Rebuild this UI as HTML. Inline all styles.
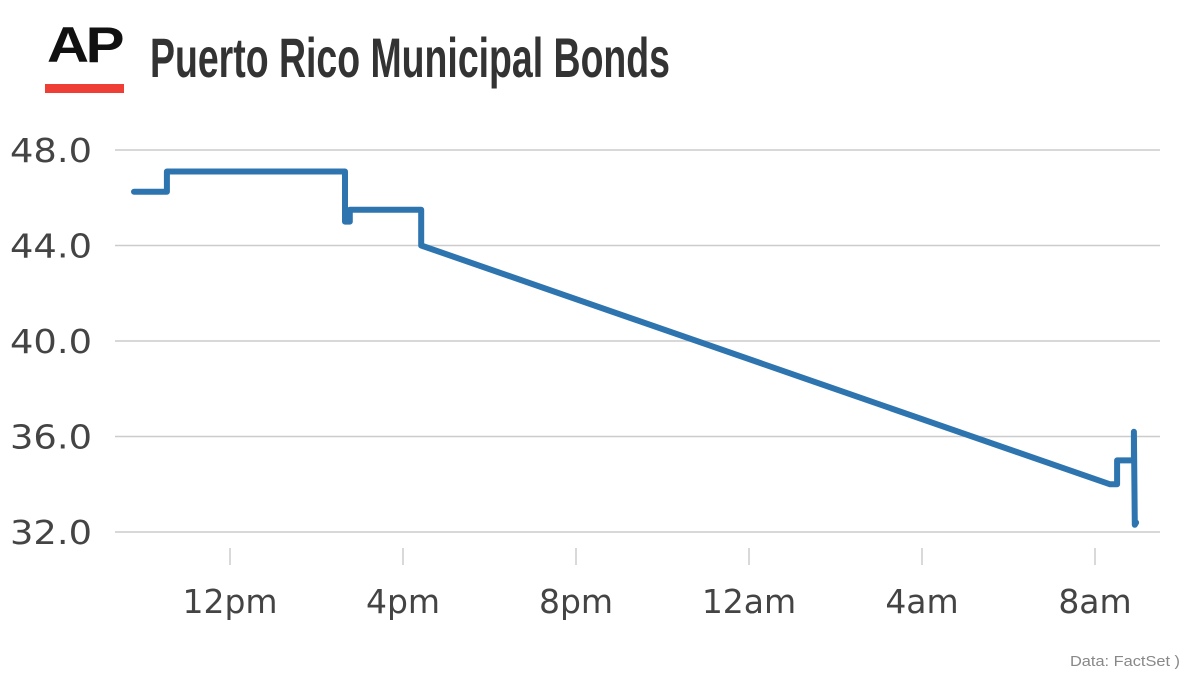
<!DOCTYPE html>
<html><head><meta charset="utf-8"><style>
html,body{margin:0;padding:0;background:#fff;}
svg{display:block;}
</style></head><body>
<svg width="1200" height="675" viewBox="0 0 1200 675" xmlns="http://www.w3.org/2000/svg" font-family="Liberation Sans, sans-serif">
<g>
<text x="47" y="62" font-size="50" font-weight="bold" fill="#111" textLength="74" lengthAdjust="spacingAndGlyphs" letter-spacing="-3">AP</text>
<rect x="45" y="84" width="79" height="9" fill="#ef3e36"/>
</g>
<text x="150" y="77" font-size="56" font-weight="bold" fill="#333" textLength="520" lengthAdjust="spacingAndGlyphs">Puerto Rico Municipal Bonds</text>
<g id="grid"></g>
<g id="yticks"></g>
<g id="xticks"></g>
<path id="line" fill="none" stroke="#2e75b0" stroke-width="6" stroke-linejoin="round" stroke-linecap="round"/>
<text x="1180" y="666" font-size="15" fill="#888" text-anchor="end" textLength="110" lengthAdjust="spacingAndGlyphs">Data: FactSet )</text>
</svg>
<script>
// hours relative to 12pm
const times = [-2.22,-1.46,-1.46,2.66,2.66,2.73,2.77,2.77,4.42,4.42,20.35,20.51,20.51,20.88,20.90,20.90,20.92,20.95];
const values = [46.25,46.25,47.1,47.1,45.0,45.0,45.0,45.5,45.5,44.0,34.0,34.0,35.0,35.0,35.0,36.2,32.3,32.4];
const yTicks = [32,36,40,44,48];
const xTickHours = [0,4,8,12,16,20];
const xTickLabels = ["12pm","4pm","8pm","12am","4am","8am"];
const X = h => 230 + h*43.25;
const Y = v => 150 + (48 - v)*23.875;
const NS = "http://www.w3.org/2000/svg";
const grid = document.getElementById('grid'), yt = document.getElementById('yticks'), xt = document.getElementById('xticks');
yTicks.forEach(v => {
  const l = document.createElementNS(NS,'line');
  
  
  l.setAttribute('x1',115); l.setAttribute('x2',1160);
  l.setAttribute('y1',Y(v)); l.setAttribute('y2',Y(v));
  l.setAttribute('stroke','#ccc'); l.setAttribute('stroke-width','1.5');
  grid.appendChild(l);
  const t = document.createElementNS(NS,'text');
  
  
  t.setAttribute('x',10); t.setAttribute('y',Y(v)+12);
  t.setAttribute('font-size','33'); t.setAttribute('fill','#444');
  t.setAttribute('font-family','DejaVu Sans, sans-serif');
  t.setAttribute('textLength','82'); t.setAttribute('lengthAdjust','spacingAndGlyphs');
  t.textContent = v.toFixed(1);
  yt.appendChild(t);
});
xTickHours.forEach((h,i) => {
  const l = document.createElementNS(NS,'line');
  
  
  l.setAttribute('x1',X(h)); l.setAttribute('x2',X(h));
  l.setAttribute('y1',548); l.setAttribute('y2',565);
  l.setAttribute('stroke','#ccc'); l.setAttribute('stroke-width','1.5');
  xt.appendChild(l);
  const t = document.createElementNS(NS,'text');
  
  
  t.setAttribute('x',X(h)); t.setAttribute('y',613);
  t.setAttribute('font-size','33'); t.setAttribute('fill','#444');
  t.setAttribute('font-family','DejaVu Sans, sans-serif');
  t.setAttribute('text-anchor','middle');
  t.textContent = xTickLabels[i];
  xt.appendChild(t);
});
document.getElementById('line').setAttribute('d', times.map((h,i)=>(i?'L':'M')+X(h).toFixed(1)+' '+Y(values[i]).toFixed(1)).join(' '));
</script>
</body></html>
